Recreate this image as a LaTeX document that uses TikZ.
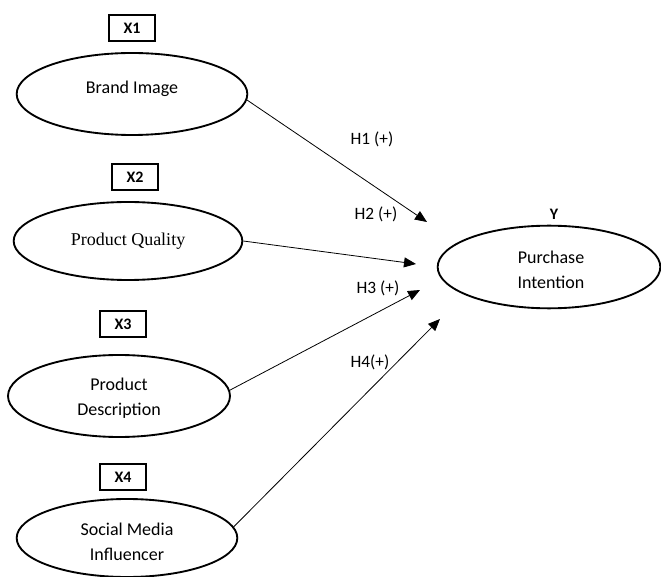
\documentclass[tikz,border=0pt]{standalone}
\usepackage{fontspec}
\setmainfont{Carlito}
\newfontfamily\timesf{Liberation Serif}
\usetikzlibrary{shapes.geometric,arrows.meta}
\tikzset{
  constr/.style={ellipse,draw,line width=1.4pt,inner sep=0pt},
  ctext/.style={font=\fontsize{13.5}{18.5}\selectfont,align=center,inner sep=0pt},
  xbox/.style={draw,line width=1.4pt,inner sep=0pt,minimum width=35pt,minimum height=19.5pt,font=\bfseries\fontsize{12}{14}\selectfont},
  hyp/.style={-{Triangle[length=9pt,width=7.5pt]},line width=0.6pt},
  hlab/.style={font=\fontsize{13}{15}\selectfont,inner sep=0pt}
}
\begin{document}
\begin{tikzpicture}[x=0.75pt,y=-0.75pt]
\useasboundingbox (0,0) rectangle (661,577);
% predictor boxes
\node[xbox] (x1) at (132,28) {X1};
\node[xbox] (x2) at (135,177) {X2};
\node[xbox] (x3) at (123,324) {X3};
\node[xbox] (x4) at (123,477) {X4};
% constructs
\node[constr,minimum width=173pt,minimum height=61.5pt] (bi) at (132,94) {};
\node[ctext] (bitext) at (132,89) {Brand Image};
\node[constr,minimum width=171.5pt,minimum height=58.5pt] (pq) at (128,241) {};
\node[ctext,font=\timesf\fontsize{13.5}{18.5}\selectfont] (pqtext) at (128,241) {Product Quality};
\node[constr,minimum width=166.5pt,minimum height=61.5pt] (pd) at (119,396) {};
\node[ctext] (pdtext) at (119,398) {Product\\Description};
\node[constr,minimum width=165.5pt,minimum height=58.5pt] (sm) at (127,538) {};
\node[ctext] (smtext) at (127,542) {Social Media\\Influencer};
\node[constr,minimum width=167pt,minimum height=62pt] (pi) at (549,267) {};
\node[ctext] (pitext) at (551,270) {Purchase\\Intention};
\node[font=\bfseries\fontsize{12}{14}\selectfont,inner sep=0pt] (y) at (554,214) {Y};
% arrow tips
\coordinate (t1) at (427,222);
\coordinate (t2) at (416,264);
\coordinate (t3) at (420,290);
\coordinate (t4) at (440,319);
\draw[hyp] (bi.-3) -- (t1);
\draw[hyp] (pq.east) -- (t2);
\draw[hyp] (pd.3) -- (t3);
\draw[hyp] (sm.6) -- (t4);
% labels
\node[hlab] (h1) at (372,139) {H1 (+)};
\node[hlab] (h2) at (376,214) {H2 (+)};
\node[hlab] (h3) at (378,288) {H3 (+)};
\node[hlab] (h4) at (370,362) {H4(+)};
\end{tikzpicture}
\end{document}
